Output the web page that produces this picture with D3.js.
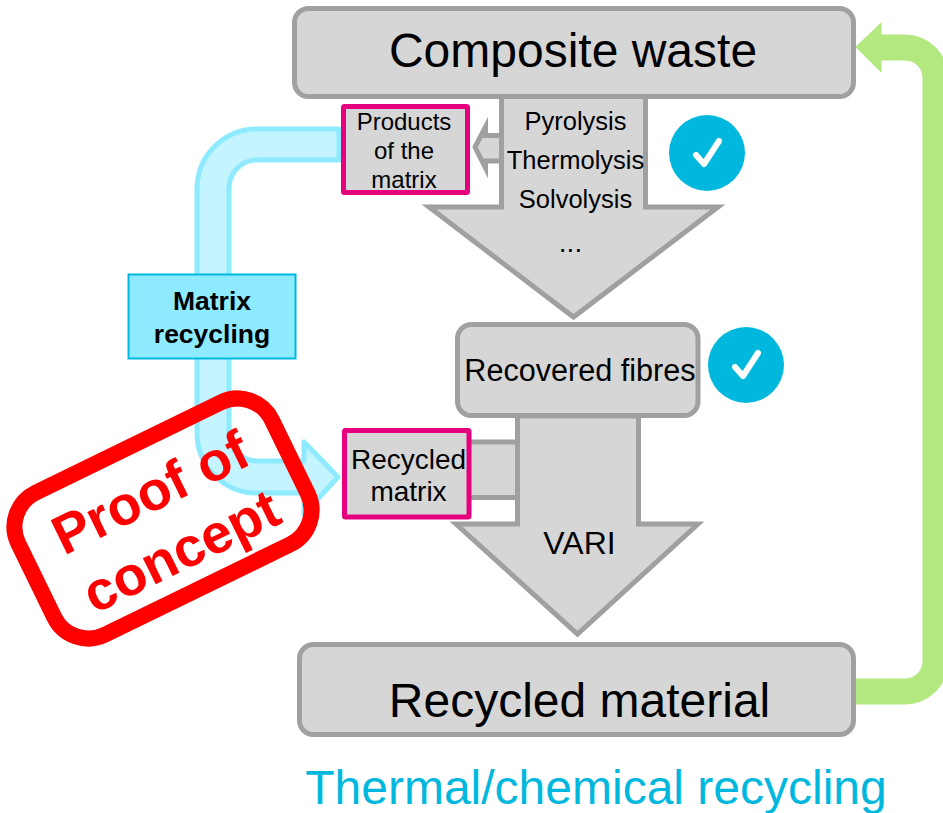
<!DOCTYPE html>
<html>
<head>
<meta charset="utf-8">
<script src="https://cdn.jsdelivr.net/npm/d3@7"></script>
<style>
  html, body { margin: 0; padding: 0; background: #fff; }
  svg { display: block; }
  text { font-family: "Liberation Sans", Arial, sans-serif; text-anchor: middle; fill: #000; }
</style>
</head>
<body>
<div id="chart"></div>
<script>
var svgWidth = 943;
var svgHeight = 813;

// texts of the diagram
var wasteLabel = "Composite waste";
var materialLabel = "Recycled material";
var fibresLabel = "Recovered fibres";
var processLabels = ["Pyrolysis", "Thermolysis", "Solvolysis"];
var moreLabel = "...";
var productLabels = ["Products", "of the", "matrix"];
var recycledLabels = ["Recycled", "matrix"];
var matrixLabels = ["Matrix", "recycling"];
var proofLabels = ["Proof of", "concept"];
var variLabel = "VARI";
var footerLabel = "Thermal/chemical recycling";

var grey = "#a0a0a0", lightGrey = "#d6d6d6", pink = "#e6007e", cyan = "#00b8de";
var paleBlue = "#c4f4ff", midBlue = "#8eebff", green = "#b3e77f", red = "#ff0000";

var svg = d3.select("#chart")
  .append("svg")
  .attr("width", svgWidth)
  .attr("height", svgHeight);

function box(x0, y0, x1, y1, r, stroke, width, fill) {
  return svg.append("rect")
    .attr("x", x0).attr("y", y0)
    .attr("width", x1 - x0).attr("height", y1 - y0)
    .attr("rx", r).attr("ry", r)
    .attr("fill", fill).attr("stroke", stroke).attr("stroke-width", width);
}

function poly(points, stroke, width, fill) {
  return svg.append("path")
    .attr("d", d3.line()(points) + "Z")
    .attr("fill", fill).attr("stroke", stroke).attr("stroke-width", width)
    .attr("stroke-linejoin", "miter")
    .attr("stroke-miterlimit", 10);
}

function lines(labels, x, y, step, size, weight) {
  labels.forEach(function(t, i) {
    svg.append("text")
      .attr("x", x).attr("y", y + i * step)
      .attr("font-size", size)
      .attr("font-weight", weight || "normal")
      .text(t);
  });
}

function check(cx, cy) {
  svg.append("circle").attr("cx", cx).attr("cy", cy).attr("r", 38).attr("fill", cyan);
  svg.append("path")
    .attr("d", d3.line()([[cx - 11, cy + 2], [cx - 3, cy + 11], [cx + 12, cy - 12]]))
    .attr("fill", "none").attr("stroke", "#fff").attr("stroke-width", 6)
    .attr("stroke-linecap", "round").attr("stroke-linejoin", "round");
}

// blue matrix arrow, behind everything
var bluePath = d3.path();
bluePath.moveTo(339, 129);
bluePath.lineTo(257, 129);
bluePath.arcTo(197, 129, 197, 189, 60);
bluePath.lineTo(197, 433);
bluePath.arcTo(197, 493, 257, 493, 60);
bluePath.lineTo(304, 493);
bluePath.lineTo(304, 514);
bluePath.lineTo(338, 477);
bluePath.lineTo(304, 442);
bluePath.lineTo(304, 461);
bluePath.lineTo(257, 461);
bluePath.arcTo(229, 461, 229, 433, 28);
bluePath.lineTo(229, 189);
bluePath.arcTo(229, 160, 257, 160, 28);
bluePath.lineTo(339, 160);
bluePath.closePath();
svg.append("path").attr("d", bluePath.toString())
  .attr("fill", paleBlue).attr("stroke", midBlue).attr("stroke-width", 5)
  .attr("stroke-linejoin", "round");

// green return arrow
var greenPath = d3.path();
greenPath.moveTo(855, 679);
greenPath.lineTo(905, 679);
greenPath.arcTo(923, 679, 923, 661, 18);
greenPath.lineTo(923, 78);
greenPath.arcTo(923, 60, 905, 60, 18);
greenPath.lineTo(881, 60);
greenPath.lineTo(881, 72);
greenPath.lineTo(856, 47);
greenPath.lineTo(881, 23);
greenPath.lineTo(881, 35);
greenPath.lineTo(905, 35);
greenPath.arcTo(948, 35, 948, 78, 43);
greenPath.lineTo(948, 661);
greenPath.arcTo(948, 704, 905, 704, 43);
greenPath.lineTo(855, 704);
greenPath.closePath();
svg.append("path").attr("d", greenPath.toString())
  .attr("fill", green).attr("stroke", green).attr("stroke-width", 1)
  .attr("stroke-linejoin", "round");

// small arrow to the matrix products
poly([[502, 135.5], [485.5, 135.5], [485.5, 127], [475, 147], [485.5, 168], [485.5, 161], [502, 161]], grey, 5, lightGrey);
// connector from recycled matrix
box(468, 442, 517.5, 497.5, 0, grey, 5, lightGrey);

// grey process arrows
poly([[501.5, 96], [645.5, 96], [645.5, 207], [718, 207], [573.5, 317], [429, 207], [501.5, 207]], grey, 5, lightGrey);
poly([[517.5, 416], [638.5, 416], [638.5, 524], [698, 524], [577.5, 634], [456, 524], [517.5, 524]], grey, 5, lightGrey);

box(294.5, 8.5, 853.5, 96.5, 14, grey, 5, lightGrey);
box(299.5, 644.5, 853.5, 734.5, 14, grey, 5, lightGrey);
box(457.5, 324.5, 698, 415.5, 14, grey, 5, lightGrey);
box(343.5, 106.5, 467.5, 192.5, 1, pink, 5, lightGrey);
box(344.5, 430.5, 469, 517, 1, pink, 5, lightGrey);
box(128.5, 274.5, 295.5, 358.5, 0, cyan, 2, midBlue);

check(707, 153);
check(746, 365);

lines([wasteLabel], 573, 67, 0, 48);
lines([materialLabel], 579.5, 717, 0, 48);
lines([fibresLabel], 580, 381, 0, 30.6);
lines(processLabels, 575.5, 129.5, 39.2, 25.5);
lines([moreLabel], 570.5, 252, 0, 28);
lines(productLabels, 404, 130, 29, 24);
lines(recycledLabels, 408.5, 468.5, 32, 28);
lines(matrixLabels, 212, 310, 33, 26.5, "bold");
lines([variLabel], 579.5, 554, 0, 32);

svg.append("text")
  .attr("x", 596).attr("y", 804)
  .attr("font-size", 48)
  .style("fill", cyan)
  .text(footerLabel);

// proof of concept stamp
var stamp = svg.append("g").attr("transform", "translate(163,518.5) rotate(-26)");
stamp.append("rect")
  .attr("x", -141).attr("y", -79)
  .attr("width", 282).attr("height", 158)
  .attr("rx", 38).attr("ry", 38)
  .attr("fill", "none").attr("stroke", red).attr("stroke-width", 16);
proofLabels.forEach(function(t, i) {
  stamp.append("text")
    .attr("x", i * 2).attr("y", -10 + i * 66)
    .attr("font-size", 55)
    .attr("font-weight", "bold")
    .style("fill", red)
    .text(t);
});
</script>
</body>
</html>
